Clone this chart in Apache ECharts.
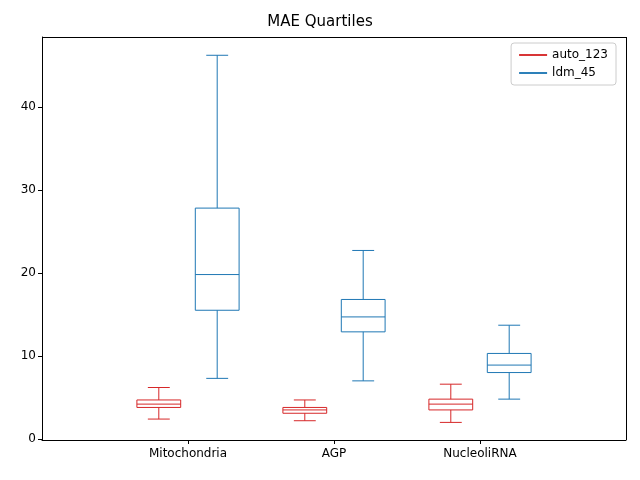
<!DOCTYPE html>
<html><head><meta charset="utf-8">
<script src="https://cdn.jsdelivr.net/npm/echarts@6/dist/echarts.min.js"></script>
<style>body{margin:0}#c{width:640px;height:480px}</style></head>
<body><div id="c"></div>
<script>
// categories and box stats [min, Q1, median, Q3, max]
var categories = ['Mitochondria', 'AGP', 'NucleoliRNA']
var auto123 = [[2.4, 3.8, 4.2, 4.7, 6.2], [2.2, 3.1, 3.5, 3.8, 4.7], [2.0, 3.5, 4.2, 4.8, 6.6]]
var ldm45 = [[7.3, 15.5, 19.8, 27.8, 46.2], [7.0, 12.9, 14.7, 16.8, 22.7], [4.8, 8.0, 8.9, 10.3, 13.7]]
var yTicks = [0, 10, 20, 30, 40]

function boxSeries(name, color, stats, offset) {
  return {
    name: name, type: 'custom', color: color,
    data: stats.map(function (s, i) { return [i + 1 + offset].concat(s) }),
    encode: { x: 0, y: [1, 2, 3, 4, 5] },
    renderItem: function (params, api) {
      var x = api.value(0), hw = 0.15, cw = 0.075
      var p = function (a, b) { return api.coord([a, b]) }
      var st = { stroke: color, fill: 'none', lineWidth: 1 }
      var line = function (a, b) { return { type: 'line', shape: { x1: a[0], y1: a[1], x2: b[0], y2: b[1] }, style: st } }
      var mn = api.value(1), q1 = api.value(2), md = api.value(3), q3 = api.value(4), mx = api.value(5)
      var tl = p(x - hw, q3), br = p(x + hw, q1)
      return { type: 'group', children: [
        { type: 'rect', shape: { x: tl[0], y: tl[1], width: br[0] - tl[0], height: br[1] - tl[1] }, style: st },
        line(p(x - hw, md), p(x + hw, md)),
        line(p(x, q3), p(x, mx)), line(p(x, q1), p(x, mn)),
        line(p(x - cw, mx), p(x + cw, mx)), line(p(x - cw, mn), p(x + cw, mn))
      ]}
    }
  }
}

var chart = echarts.init(document.getElementById('c'))
chart.setOption({
  animation: false,
  title: { text: 'MAE Quartiles', left: 'center', top: 10, textStyle: { fontFamily: 'DejaVu Sans', fontSize: 15, fontWeight: 'normal', color: '#000' } },
  grid: { left: 42, right: 14, top: 37, bottom: 40 },
  legend: {
    right: 24, top: 43, orient: 'vertical', itemGap: 6, icon: 'path://M0,0H30V2H0Z', itemWidth: 28, itemHeight: 2,
    backgroundColor: '#fff', borderColor: '#ccc', borderWidth: 1, borderRadius: 3, padding: [6, 8],
    textStyle: { fontFamily: 'DejaVu Sans', fontSize: 12, color: '#000' },
    data: ['auto_123', 'ldm_45']
  },
  xAxis: {
    type: 'value', min: 0, max: 4, splitLine: { show: false },
    axisLine: { onZero: false, lineStyle: { color: '#000' } },
    axisTick: { customValues: [1, 2, 3], length: 4, inside: false, lineStyle: { color: '#000' } },
    axisLabel: { customValues: [1, 2, 3], formatter: function (v) { return categories[v - 1] }, color: '#000', fontFamily: 'DejaVu Sans', fontSize: 12, margin: 8 }
  },
  yAxis: {
    type: 'value', min: -0.12, max: 48.4, splitLine: { show: false },
    axisLine: { show: true, onZero: false, lineStyle: { color: '#000' } },
    axisTick: { show: true, customValues: yTicks, length: 4, lineStyle: { color: '#000' } },
    axisLabel: { customValues: yTicks, color: '#000', fontFamily: 'DejaVu Sans', fontSize: 12, margin: 6 }
  },
  series: [boxSeries('auto_123', '#d62728', auto123, -0.2), boxSeries('ldm_45', '#1f77b4', ldm45, 0.2),
    { type: 'line', data: [], markLine: { silent: true, symbol: 'none', label: { show: false }, lineStyle: { color: '#000', type: 'solid', width: 1 }, data: [{ yAxis: 48.4 }, { xAxis: 4 }] } }]
})
</script></body></html>
